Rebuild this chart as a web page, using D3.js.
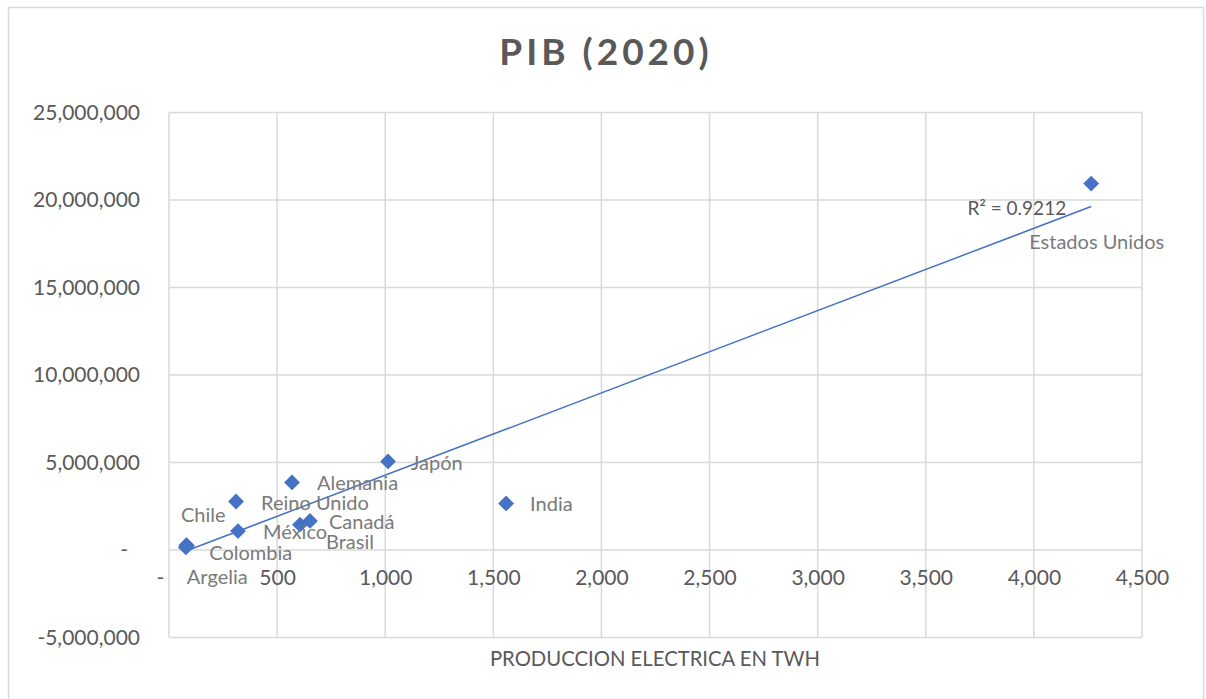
<!DOCTYPE html>
<html>
<head>
<meta charset="utf-8">
<script src="https://cdn.jsdelivr.net/npm/d3@7"></script>
<style>
  html, body { margin: 0; padding: 0; background: #fff; }
  svg { display: block; font-family: Lato, "Open Sans", sans-serif; }
</style>
</head>
<body>
<svg id="chart" width="1206" height="699"></svg>
<script>
// Electricity production (TWh) vs. GDP (millions USD), 2020
const countries = ["Estados Unidos", "Japón", "India", "Alemania", "Reino Unido", "Canadá", "Brasil", "México", "Chile", "Colombia", "Argelia"];
const electricityTWh = [4265, 1013, 1559, 569, 310, 652, 606, 319, 83, 80, 78];
const gdpMillionUSD = [20940000, 5060000, 2660000, 3860000, 2770000, 1660000, 1450000, 1080000, 250000, 270000, 150000];

const xTicks = [0, 500, 1000, 1500, 2000, 2500, 3000, 3500, 4000, 4500];
const yTicks = [-5000000, 0, 5000000, 10000000, 15000000, 20000000, 25000000];
const r2Label = "R² = 0.9212";

// Label placement relative to each marker (pixels)
const labelOffsets = [[-62, 60], [23, 3], [24, 2], [25, 2], [25, 3], [19, 3], [26, 19], [25, 3], [-6, -29], [23, 10], [1, 32]];

const svg = d3.select("#chart");
const plot = { left: 169, right: 1142, top: 112.5, bottom: 637.5 };

const x = d3.scaleLinear().domain([0, 4500]).range([plot.left, plot.right]);
const y = d3.scaleLinear().domain([-5000000, 25000000]).range([plot.bottom, plot.top]);

const grid = "#d9d9d9";
const axisText = "#595959";
const labelText = "#7a7a7a";
const blue = "#4472C4";

// Chart frame
svg.append("rect")
  .attr("x", 8.5).attr("y", 7.5).attr("width", 1195).attr("height", 700)
  .attr("fill", "none").attr("stroke", grid).attr("stroke-width", 1.5);

// Title
svg.append("text")
  .attr("x", 606).attr("y", 56)
  .attr("text-anchor", "middle").attr("dominant-baseline", "middle")
  .attr("font-size", 37).attr("font-weight", 700)
  .attr("letter-spacing", 4)
  .attr("fill", axisText)
  .text("PIB (2020)");

// Gridlines
const gridG = svg.append("g");
gridG.selectAll("line.v").data(xTicks).join("line")
  .attr("x1", d => x(d)).attr("x2", d => x(d))
  .attr("y1", plot.top).attr("y2", plot.bottom)
  .attr("stroke", grid).attr("stroke-width", 1.5);
gridG.selectAll("line.h").data(yTicks).join("line")
  .attr("x1", plot.left).attr("x2", plot.right)
  .attr("y1", d => y(d)).attr("y2", d => y(d))
  .attr("stroke", grid).attr("stroke-width", 1.5);

// Accounting-style number format: plain hyphen for negatives, "-" for zero
const numFmt = d3.formatLocale({ decimal: ".", thousands: ",", grouping: [3], currency: ["$", ""], minus: "-" }).format(",");
const fmt = d => d === 0 ? "-" : numFmt(d);

// Y axis labels
const yAxis = d3.axisLeft(y).tickValues(yTicks).tickFormat(fmt).tickSize(0).tickPadding(29);
const yG = svg.append("g").attr("transform", `translate(${plot.left},0)`).call(yAxis);
yG.select(".domain").remove();
yG.selectAll("text")
  .attr("font-size", 21).attr("fill", axisText).attr("font-family", "Lato, sans-serif")
  .attr("dx", d => d === 0 ? -12 : 0);

// X axis labels (placed below the zero line)
const xAxis = d3.axisBottom(x).tickValues(xTicks).tickFormat(fmt).tickSize(0).tickPadding(20);
const xG = svg.append("g").attr("transform", `translate(0,${y(0)})`).call(xAxis);
xG.select(".domain").remove();
xG.selectAll("text")
  .attr("font-size", 21).attr("fill", axisText).attr("font-family", "Lato, sans-serif")
  .attr("dx", d => d === 0 ? -9 : 0);

// X axis title
svg.append("text")
  .attr("x", 655).attr("y", 661)
  .attr("text-anchor", "middle").attr("dominant-baseline", "middle")
  .attr("font-size", 20.3).attr("fill", axisText)
  .text("PRODUCCION ELECTRICA EN TWH");

// Linear trendline (least squares)
const pts = countries.map((c, i) => ({ name: c, x: electricityTWh[i], y: gdpMillionUSD[i], off: labelOffsets[i] }));
const mx = d3.mean(pts, p => p.x), my = d3.mean(pts, p => p.y);
const sxy = d3.sum(pts, p => (p.x - mx) * (p.y - my));
const sxx = d3.sum(pts, p => (p.x - mx) ** 2);
const slope = sxy / sxx, intercept = my - slope * mx;
const [xmin, xmax] = d3.extent(pts, p => p.x);
const trend = [xmin, xmax].map(v => [x(v), y(intercept + slope * v)]);

svg.append("path")
  .attr("d", d3.line()(trend))
  .attr("fill", "none").attr("stroke", blue).attr("stroke-width", 1.5);

svg.append("text")
  .attr("x", trend[1][0] - 25).attr("y", trend[1][1] + 4)
  .attr("text-anchor", "end").attr("dominant-baseline", "middle")
  .attr("font-size", 19).attr("fill", axisText)
  .text(r2Label);

// Markers
const sym = d3.symbol().type(d3.symbolDiamond2).size(160);
svg.append("g").selectAll("path").data(pts).join("path")
  .attr("d", sym)
  .attr("transform", d => `translate(${x(d.x)},${y(d.y)})`)
  .attr("fill", blue);

// Data labels
svg.append("g").selectAll("text").data(pts).join("text")
  .attr("x", d => x(d.x) + d.off[0])
  .attr("y", d => y(d.y) + d.off[1])
  .attr("dominant-baseline", "middle")
  .attr("font-size", 20).attr("fill", labelText)
  .text(d => d.name);
</script>
</body>
</html>
